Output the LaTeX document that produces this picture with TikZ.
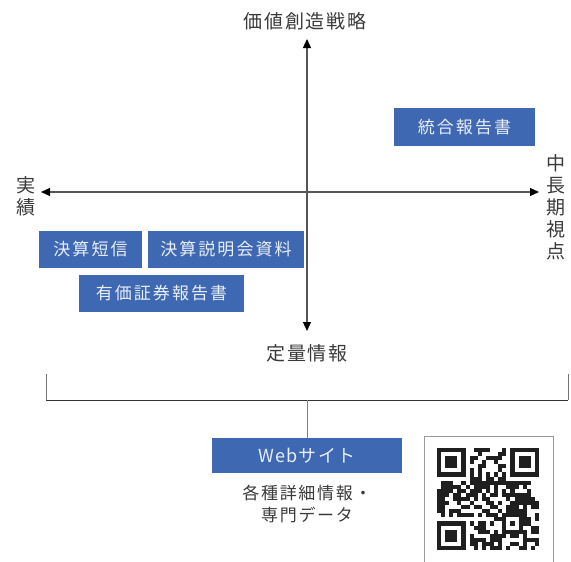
\documentclass[tikz,border=0pt]{standalone}
\usepackage{fontspec}
\setmainfont{Noto Sans CJK JP}
\usetikzlibrary{arrows.meta}
\definecolor{boxblue}{HTML}{3F68B2}
\definecolor{boxtext}{HTML}{E8EEF8}
\definecolor{txt}{HTML}{3A3A3A}
\definecolor{axis}{HTML}{555555}
\tikzset{
  bluebox/.style={fill=boxblue, text=boxtext, inner sep=0pt, font=\fontsize{17}{20}\selectfont\addfontfeature{LetterSpace=12}},
  lbl/.style={text=txt, inner sep=0pt, font=\fontsize{19}{22}\selectfont\addfontfeature{LetterSpace=10}},
  axisarrow/.style={draw=axis, line width=1.1pt, {Triangle[length=9pt,width=8pt,fill=black,color=black]}-{Triangle[length=9pt,width=8pt,fill=black,color=black]}},
  qrmod/.style={fill=black!88}
}
\begin{document}
\begin{tikzpicture}[x=1pt,y=-1pt]
\useasboundingbox (0,0) rectangle (571,562);
% axis end points
\coordinate (top) at (307,39);
\coordinate (bot) at (307,331);
\coordinate (left) at (41,192);
\coordinate (right) at (539,192);
\draw[axisarrow] (top) -- (bot);
\draw[axisarrow] (left) -- (right);
% labels
\node[lbl] (ttl) at (305,21) {価値創造戦略};
\node[lbl] (qty) at (307,353) {定量情報};
\node[lbl, align=center, font=\fontsize{19}{22}\selectfont] (res) at (26,196) {実\\績};
\node[lbl, align=center, font=\fontsize{19}{22}\selectfont] (mid) at (556,207) {中\\長\\期\\視\\点};
% boxes
\node[bluebox, minimum width=141, minimum height=38] (int) at (464.5,127) {統合報告書};
\node[bluebox, minimum width=103, minimum height=37] (tan) at (90.5,249.5) {決算短信};
\node[bluebox, minimum width=156, minimum height=37] (set) at (226,249.5) {決算説明会資料};
\node[bluebox, minimum width=165, minimum height=37] (yuh) at (161.5,293.5) {有価証券報告書};
% bracket
\coordinate (bl) at (46,374);
\coordinate (br) at (568,374);
\coordinate (bbl) at (46,400);
\coordinate (bbr) at (568,400);
\coordinate (bm) at (307,400);
\draw[draw=black!80, line width=1pt] (bbl) -- (bbr);
\draw[draw=black!55, line width=1pt] (bl) -- (bbl);
\draw[draw=black!55, line width=1pt] (br) -- (bbr);
\node[bluebox, minimum width=190, minimum height=35, font=\fontsize{18}{20}\selectfont\addfontfeature{LetterSpace=6}] (web) at (307,455.5) {Webサイト};
\draw[draw=black!50, line width=1pt] (bm) -- (web.north);
\node[lbl, align=center, font=\fontsize{17}{22}\selectfont\addfontfeature{LetterSpace=10}] (det) at (307,504) {各種詳細情報・\\専門データ};
% QR code
\draw[draw=black!40, line width=1pt] (424,436) rectangle (553,570);
\def\m{4.08}
\pgfmathsetseed{271}
\foreach \i in {0,...,24}{
  \foreach \j in {0,...,24}{
    \pgfmathtruncatemacro\res{((\i<8)&&(\j<8))||((\i>16)&&(\j<8))||((\i<8)&&(\j>16))||((\i>15)&&(\i<21)&&(\j>15)&&(\j<21))||(\i==6)||(\j==6)}
    \ifnum\res=0
      \pgfmathrandominteger{\r}{0}{99}
      \ifnum\r<58
        \fill[qrmod] (437+\i*\m,448+\j*\m) rectangle ++(\m,\m);
      \fi
    \fi
  }
}
% timing patterns
\foreach \k in {8,10,...,16}{
  \fill[qrmod] (437+\k*\m,448+6*\m) rectangle ++(\m,\m);
  \fill[qrmod] (437+6*\m,448+\k*\m) rectangle ++(\m,\m);
}
% finder patterns
\foreach \ox/\oy in {0/0,18/0,0/18}{
  \fill[qrmod] (437+\ox*\m,448+\oy*\m) rectangle ++(7*\m,7*\m);
  \fill[white] (437+\ox*\m+\m,448+\oy*\m+\m) rectangle ++(5*\m,5*\m);
  \fill[qrmod] (437+\ox*\m+2*\m,448+\oy*\m+2*\m) rectangle ++(3*\m,3*\m);
}
% alignment pattern
\fill[qrmod] (437+16*\m,448+16*\m) rectangle ++(5*\m,5*\m);
\fill[white] (437+17*\m,448+17*\m) rectangle ++(3*\m,3*\m);
\fill[qrmod] (437+18*\m,448+18*\m) rectangle ++(\m,\m);
\end{tikzpicture}
\end{document}
